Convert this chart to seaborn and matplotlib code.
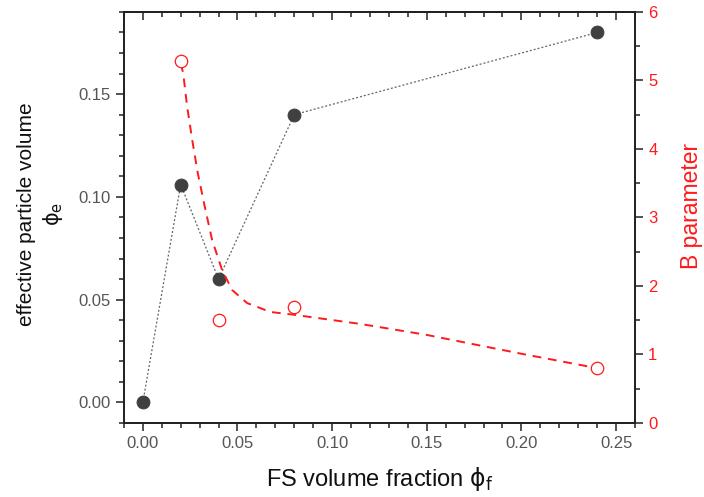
import numpy as np
import matplotlib
matplotlib.use('Agg')
import matplotlib.pyplot as plt
from matplotlib.ticker import MultipleLocator
import seaborn as sns

# data
phi_f = [0.00, 0.02, 0.04, 0.08, 0.24]
phi_e = [0.000, 0.106, 0.060, 0.140, 0.180]

b_x = [0.02, 0.04, 0.08, 0.24]
b_val = [5.29, 1.50, 1.69, 0.80]

# dashed fit curve for B, traced point by point
fit_x = [0.020, 0.0213, 0.0234, 0.0261, 0.0290, 0.0327, 0.0366, 0.0419,
         0.0472, 0.0551, 0.0674, 0.0797, 0.115, 0.150, 0.200, 0.240]
fit_b = [5.25, 5.11, 4.62, 4.13, 3.65, 3.16, 2.67, 2.23,
         1.94, 1.75, 1.62, 1.58, 1.445, 1.285, 1.01, 0.80]

sns.set_style('ticks')
plt.rcParams['font.family'] = ['Liberation Sans', 'DejaVu Sans']
plt.rcParams['mathtext.fontset'] = 'custom'
plt.rcParams['mathtext.rm'] = 'DejaVu Sans'
plt.rcParams['mathtext.it'] = 'DejaVu Sans'

RED = '#ff1a1a'
DARK = '#404040'
GREY_TXT = '#555555'

fig = plt.figure(figsize=(7.04, 4.97), dpi=100)
ax = fig.add_axes([0.176, 0.149, 0.726, 0.827])
ax2 = ax.twinx()

# left axis: effective particle volume
sns.lineplot(x=phi_f, y=phi_e, ax=ax, color='#666666', linewidth=0.9,
             linestyle=(0, (1.6, 1.6)), estimator=None, sort=False, zorder=2)
sns.scatterplot(x=phi_f, y=phi_e, ax=ax, color=DARK, edgecolor=DARK,
                s=85, zorder=3)

# right axis: B parameter
sns.lineplot(x=fit_x, y=fit_b, ax=ax2, color=RED, linewidth=1.4,
             linestyle=(0, (4.5, 3.5)), estimator=None, sort=False, zorder=2)
sns.scatterplot(x=b_x, y=b_val, ax=ax2, facecolor='white', edgecolor=RED,
                linewidth=0.9, s=80, zorder=3)

ax.set_xlim(-0.01, 0.26)
ax.set_ylim(-0.01, 0.19)
ax2.set_ylim(0, 6)

ax.xaxis.set_major_locator(MultipleLocator(0.05))
ax.xaxis.set_minor_locator(MultipleLocator(0.01))
ax.yaxis.set_major_locator(MultipleLocator(0.05))
ax.yaxis.set_minor_locator(MultipleLocator(0.01))
ax2.yaxis.set_major_locator(MultipleLocator(1))
ax2.yaxis.set_minor_locator(MultipleLocator(0.5))

ax.xaxis.set_major_formatter(matplotlib.ticker.FormatStrFormatter('%.2f'))
ax.yaxis.set_major_formatter(matplotlib.ticker.FormatStrFormatter('%.2f'))

ax.tick_params(axis='both', which='major', direction='out', length=6,
               width=1.1, labelsize=12, labelcolor=GREY_TXT, color='#222222')
ax.tick_params(axis='both', which='minor', direction='out', length=3.5,
               width=1.1, color='#222222')
ax2.tick_params(axis='y', which='major', direction='out', length=6,
                width=1.1, labelsize=12, labelcolor=RED, color='#222222')
ax2.tick_params(axis='y', which='minor', direction='out', length=3.5,
                width=1.1, color='#222222')

# top axis with inward ticks, no labels
top = ax.secondary_xaxis('top')
top.xaxis.set_major_locator(MultipleLocator(0.05))
top.xaxis.set_minor_locator(MultipleLocator(0.01))
top.tick_params(which='major', direction='in', length=6, width=1.1,
                labeltop=False, color='#222222')
top.tick_params(which='minor', direction='in', length=3.5, width=1.1,
                color='#222222')
top.spines['top'].set_linewidth(1.3)
top.spines['top'].set_color('#222222')

for a in (ax, ax2):
    for s in a.spines.values():
        s.set_linewidth(1.3)
        s.set_color('#222222')

ax.set_xlabel('FS volume fraction $\\mathrm{\u03d5_f}$', fontsize=17,
              color='#111111', labelpad=10)
ax.set_ylabel('effective particle volume\n$\\mathrm{\u03d5_e}$', fontsize=15,
              color='#111111', linespacing=1.25)
ax.yaxis.set_label_coords(-0.1155, 0.508)
ax2.set_ylabel('B parameter', fontsize=16.5, color=RED)
ax2.yaxis.set_label_coords(1.088, 0.528)

fig.savefig('out.png', dpi=100)
